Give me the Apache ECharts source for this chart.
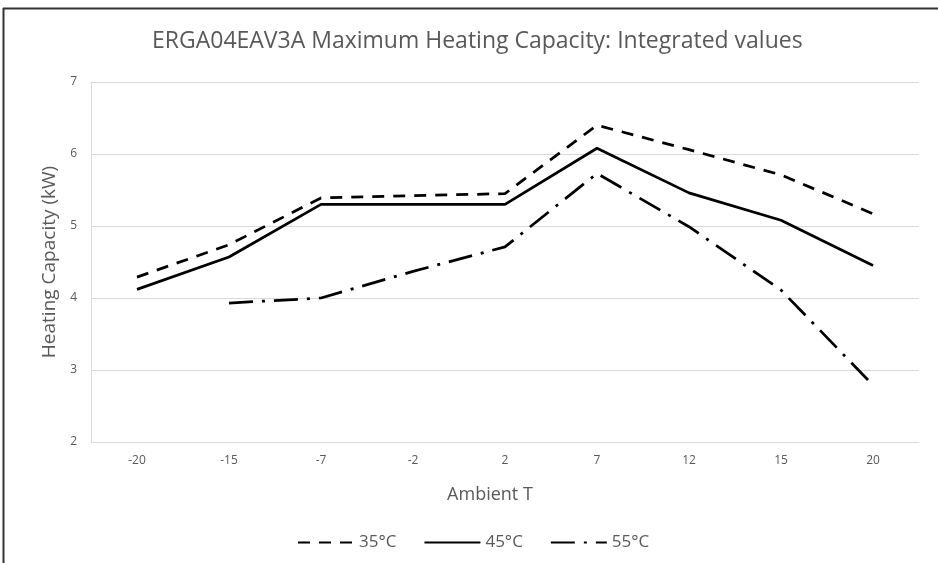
<!DOCTYPE html>
<html>
<head>
<meta charset="utf-8">
<script src="https://cdn.jsdelivr.net/npm/echarts@6/dist/echarts.min.js"></script>
<style>
  html, body { margin: 0; padding: 0; background: #fff; }
  #chart { width: 938px; height: 563px; }
</style>
</head>
<body>
<div id="chart"></div>
<script>
// ambient temperatures (x categories)
var ambientT = ['-20', '-15', '-7', '-2', '2', '7', '12', '15', '20'];
// heating capacity, kW, per leaving water temperature
var cap35 = [4.29, 4.74, 5.39, 5.42, 5.45, 6.40, 6.06, 5.71, 5.17];
var cap45 = [4.12, 4.57, 5.30, 5.30, 5.30, 6.08, 5.46, 5.08, 4.45];
var cap55 = ['-', 3.93, 4.00, 4.37, 4.71, 5.73, 4.99, 4.11, 2.79];
var seriesNames = ['35°C', '45°C', '55°C'];

var FONT = '"Open Sans", "Noto Sans", sans-serif';
var TXT = '#595959';

// every line same look, only the dash differs
function makeLine(name, data, dash) {
  return {
    name: name,
    type: 'line',
    data: data,
    symbol: 'none',
    smooth: false,
    connectNulls: false,
    lineStyle: { color: '#000', width: 2.75, type: dash, cap: 'butt' },
    // transparent so the legend shows only the line, no dot
    itemStyle: { color: 'rgba(0,0,0,0)' },
    emphasis: { disabled: true }
  };
}

var chart = echarts.init(document.getElementById('chart'));
chart.setOption({
  backgroundColor: '#fff',
  animation: false,
  textStyle: { fontFamily: FONT },
  title: {
    text: 'ERGA04EAV3A Maximum Heating Capacity: Integrated values',
    left: 147,
    top: 25,
    textStyle: { fontFamily: FONT, fontSize: 23, fontWeight: 'normal', color: TXT }
  },
  grid: { left: 91, right: 19, top: 82, bottom: 121 },
  legend: {
    left: 292,
    bottom: 7,
    itemWidth: 56,
    itemHeight: 14,
    itemGap: 27,
    itemStyle: { opacity: 0 },
    textStyle: { fontFamily: FONT, fontSize: 17, color: TXT },
    data: seriesNames
  },
  xAxis: {
    type: 'category',
    data: ambientT,
    boundaryGap: true,
    name: 'Ambient T',
    nameLocation: 'middle',
    nameGap: 44,
    nameTextStyle: { fontFamily: FONT, fontSize: 18, color: TXT, padding: [0, 30, 0, 0] },
    axisLine: { lineStyle: { color: '#d9d9d9', width: 1 } },
    axisTick: { show: false },
    axisLabel: { color: TXT, fontSize: 12, margin: 13 },
    splitLine: { show: false }
  },
  yAxis: {
    type: 'value',
    min: 2,
    max: 7,
    interval: 1,
    name: 'Heating Capacity (kW)',
    nameLocation: 'middle',
    nameGap: 31,
    nameTextStyle: { fontFamily: FONT, fontSize: 19, color: TXT },
    axisLine: { show: true, lineStyle: { color: '#d9d9d9', width: 1 } },
    axisTick: { show: false },
    axisLabel: { color: TXT, fontSize: 12, margin: 14 },
    splitLine: { lineStyle: { color: '#d9d9d9', width: 1 } }
  },
  series: [
    makeLine(seriesNames[0], cap35, [12, 9]),
    makeLine(seriesNames[1], cap45, 'solid'),
    makeLine(seriesNames[2], cap55, [24, 9, 3, 9])
  ],
  graphic: [
    // chart frame: top and left edges only
    { type: 'line', shape: { x1: 3, y1: 8.5, x2: 938, y2: 8.5 }, style: { stroke: '#333', lineWidth: 2 } },
    { type: 'line', shape: { x1: 3.5, y1: 8, x2: 3.5, y2: 563 }, style: { stroke: '#333', lineWidth: 2 } }
  ]
});
</script>
</body>
</html>
